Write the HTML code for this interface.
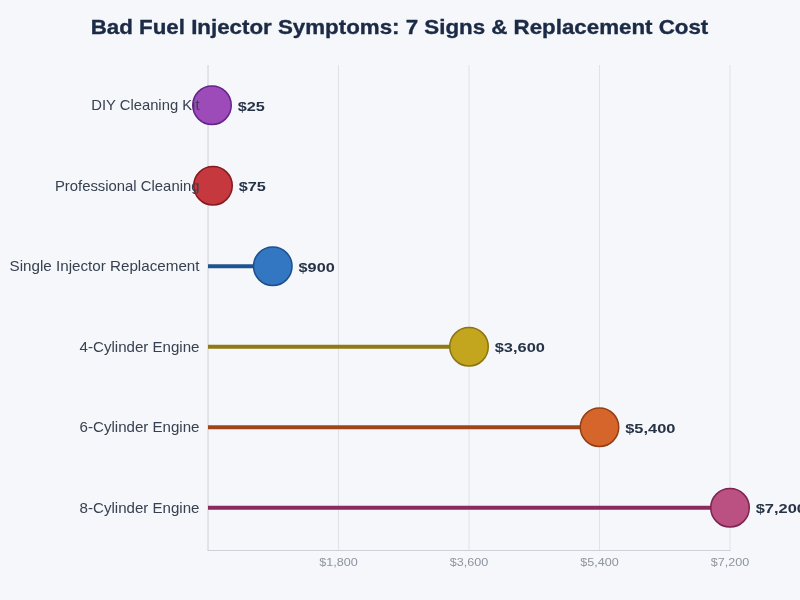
<!DOCTYPE html>
<html><head><meta charset="utf-8"><title>Bad Fuel Injector Symptoms: 7 Signs &amp; Replacement Cost</title>
<style>html,body{margin:0;padding:0;background:#f5f7fa;width:800px;height:600px;overflow:hidden}svg{display:block;will-change:transform}text{font-family:"Liberation Sans",sans-serif}</style></head>
<body><svg width="800" height="600" viewBox="0 0 800 600"><rect width="800" height="600" fill="#f5f7fa"/><line x1="338.5" y1="65" x2="338.5" y2="550" stroke="#e0e2e7" stroke-width="1"/><line x1="469" y1="65" x2="469" y2="550" stroke="#e0e2e7" stroke-width="1"/><line x1="599.5" y1="65" x2="599.5" y2="550" stroke="#e0e2e7" stroke-width="1"/><line x1="730" y1="65" x2="730" y2="550" stroke="#e0e2e7" stroke-width="1"/><line x1="208" y1="65" x2="208" y2="550.5" stroke="#cdd0d6" stroke-width="1"/><line x1="207.5" y1="550.5" x2="730.5" y2="550.5" stroke="#cdd0d6" stroke-width="1"/><text x="399.5" y="34" text-anchor="middle" font-weight="bold" font-size="20.2" fill="#1b2a45" stroke="#1b2a45" stroke-width="0.35" textLength="617.5625" lengthAdjust="spacingAndGlyphs">Bad Fuel Injector Symptoms: 7 Signs &amp; Replacement Cost</text><line x1="208" y1="105.25" x2="212.0" y2="105.25" stroke="#65228a" stroke-width="4"/><line x1="208" y1="185.75" x2="213.0" y2="185.75" stroke="#861a20" stroke-width="4"/><line x1="208" y1="266.25" x2="272.8" y2="266.25" stroke="#1c5491" stroke-width="4"/><line x1="208" y1="346.75" x2="469.0" y2="346.75" stroke="#8f7a14" stroke-width="4"/><line x1="208" y1="427.25" x2="599.5" y2="427.25" stroke="#a0451a" stroke-width="4"/><line x1="208" y1="507.75" x2="730.0" y2="507.75" stroke="#8b2a5c" stroke-width="4"/><circle cx="212.0" cy="105.25" r="19.25" fill="#9c4bb9" stroke="#65228a" stroke-width="1.5" opacity="1"/><circle cx="213.0" cy="185.75" r="19.25" fill="#c4383e" stroke="#861a20" stroke-width="1.5" opacity="1"/><circle cx="272.8" cy="266.25" r="19.25" fill="#3377c2" stroke="#1d4f8c" stroke-width="1.5" opacity="1"/><circle cx="469.0" cy="346.75" r="19.25" fill="#c4a51e" stroke="#8a7512" stroke-width="1.5" opacity="1"/><circle cx="599.5" cy="427.25" r="19.25" fill="#d5652b" stroke="#923e12" stroke-width="1.5" opacity="1"/><circle cx="730.0" cy="507.75" r="19.25" fill="#bb5183" stroke="#7e2250" stroke-width="1.5" opacity="1"/><text x="199.5" y="110.45" text-anchor="end" font-size="14.2" fill="#374151" textLength="108.296875" lengthAdjust="spacingAndGlyphs">DIY Cleaning Kit</text><text x="199.5" y="190.95" text-anchor="end" font-size="14.2" fill="#374151" textLength="144.625" lengthAdjust="spacingAndGlyphs">Professional Cleaning</text><text x="199.5" y="271.45" text-anchor="end" font-size="14.2" fill="#374151" textLength="189.921875" lengthAdjust="spacingAndGlyphs">Single Injector Replacement</text><text x="199.5" y="351.95" text-anchor="end" font-size="14.2" fill="#374151" textLength="119.921875" lengthAdjust="spacingAndGlyphs">4-Cylinder Engine</text><text x="199.5" y="432.45" text-anchor="end" font-size="14.2" fill="#374151" textLength="119.921875" lengthAdjust="spacingAndGlyphs">6-Cylinder Engine</text><text x="199.5" y="512.95" text-anchor="end" font-size="14.2" fill="#374151" textLength="119.921875" lengthAdjust="spacingAndGlyphs">8-Cylinder Engine</text><text x="237.75" y="110.5" font-weight="bold" font-size="13.6" fill="#263246" textLength="27.140625" lengthAdjust="spacingAndGlyphs">$25</text><text x="238.75" y="191.0" font-weight="bold" font-size="13.6" fill="#263246" textLength="27.140625" lengthAdjust="spacingAndGlyphs">$75</text><text x="298.55" y="271.5" font-weight="bold" font-size="13.6" fill="#263246" textLength="36.1875" lengthAdjust="spacingAndGlyphs">$900</text><text x="494.75" y="352.0" font-weight="bold" font-size="13.6" fill="#263246" textLength="50.171875" lengthAdjust="spacingAndGlyphs">$3,600</text><text x="625.25" y="432.5" font-weight="bold" font-size="13.6" fill="#263246" textLength="50.171875" lengthAdjust="spacingAndGlyphs">$5,400</text><text x="755.75" y="513.0" font-weight="bold" font-size="13.6" fill="#263246" textLength="50.171875" lengthAdjust="spacingAndGlyphs">$7,200</text><text x="338.5" y="566" text-anchor="middle" font-size="11.5" fill="#8e949e" textLength="38.5" lengthAdjust="spacingAndGlyphs">$1,800</text><text x="469" y="566" text-anchor="middle" font-size="11.5" fill="#8e949e" textLength="38.5" lengthAdjust="spacingAndGlyphs">$3,600</text><text x="599.5" y="566" text-anchor="middle" font-size="11.5" fill="#8e949e" textLength="38.5" lengthAdjust="spacingAndGlyphs">$5,400</text><text x="730" y="566" text-anchor="middle" font-size="11.5" fill="#8e949e" textLength="38.5" lengthAdjust="spacingAndGlyphs">$7,200</text></svg></body></html>
